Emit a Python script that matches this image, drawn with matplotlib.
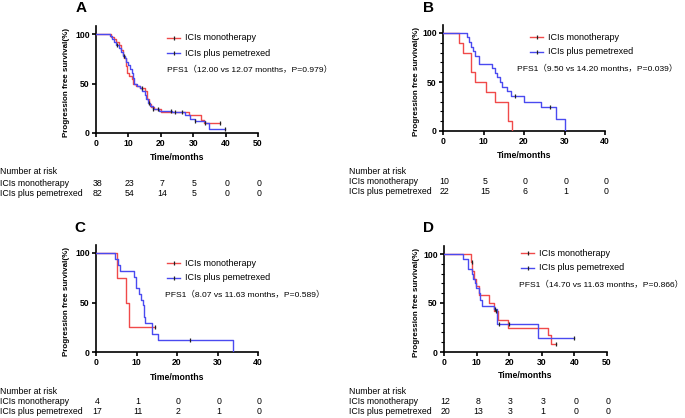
import numpy as np
import matplotlib
matplotlib.use('Agg')
from matplotlib import pyplot as plt
from matplotlib.lines import Line2D
from matplotlib.transforms import blended_transform_factory

plt.rcParams['font.family'] = ['Liberation Sans', 'Noto Sans CJK SC', 'DejaVu Sans']

RED = '#f04a4a'
BLUE = '#4a4af0'

labels = ['ICIs monotherapy', 'ICIs plus pemetrexed']

# ---- panel A ----
a_mono_t = [0, 4.5, 5.5, 6.3, 7.0, 7.6, 8.2, 8.7, 9.2, 9.7, 10.3, 11.0, 11.5, 12.3, 13.5, 15.0, 15.8, 16.3, 17.0, 18.0, 20.0, 28.8, 32.3, 33.3, 38.4]
a_mono_s = [100, 97, 95, 92, 89, 84, 79, 76, 68, 61, 58, 55, 50, 47, 45, 42, 34, 29, 26, 24, 21, 18, 13, 10, 10]
a_mono_c = [19.0, 24.5, 33.6, 38.4]
a_comb_t = [0, 4.3, 5.0, 5.6, 6.2, 7.0, 7.6, 8.2, 8.8, 9.3, 9.8, 10.4, 11.0, 11.4, 11.8, 12.5, 13.5, 14.3, 15.0, 15.5, 16.0, 16.8, 17.5, 19.5, 23.5, 27.5, 29.0, 30.5, 33.5, 35.0, 39.9]
a_comb_s = [100, 98, 95, 92, 89, 86, 82, 78, 76, 72, 69, 65, 61, 56, 50, 47, 45, 42, 38, 34, 30, 27, 24, 22, 21, 18, 14, 12, 10, 4, 4]
a_comb_c = [6.4, 8.5, 14.1, 16.4, 17.5, 23.2, 26.5, 30.6, 39.9]
a_pfs = 'PFS1（12.00 vs 12.07 months，P=0.979）'
a_risk = [[38, 23, 7, 5, 0, 0], [82, 54, 14, 5, 0, 0]]

# ---- panel B ----
b_mono_t = [0, 4.0, 5.0, 7.0, 8.0, 10.7, 12.8, 16.1, 17.0]
b_mono_s = [100, 90, 80, 60, 50, 40, 30, 10, 0]
b_mono_c = []
b_comb_t = [0, 6.0, 6.4, 6.8, 7.5, 8.0, 8.9, 12.0, 12.8, 13.3, 14.0, 14.5, 15.7, 16.7, 20.0, 24.1, 28.0, 30.1]
b_comb_s = [100, 95.5, 91, 86, 82, 77, 68, 64, 59, 55, 50, 45, 41, 36, 30, 24, 12, 0]
b_comb_c = [17.7, 26.3]
b_pfs = 'PFS1（9.50 vs 14.20 months，P=0.039）'
b_risk = [[10, 5, 0, 0, 0], [22, 15, 6, 1, 0]]

# ---- panel C ----
c_mono_t = [0, 5.3, 7.4, 8.2, 14.6]
c_mono_s = [100, 75, 50, 25, 25]
c_mono_c = [14.6]
c_comb_t = [0, 4.7, 5.5, 5.9, 9.5, 9.8, 10.5, 11.0, 11.5, 11.8, 12.1, 13.9, 15.2, 33.9]
c_comb_s = [100, 94, 88, 82, 76, 65, 59, 53, 47, 35, 29, 18, 12, 0]
c_comb_c = [23.2]
c_pfs = 'PFS1（8.07 vs 11.63 months，P=0.589）'
c_risk = [[4, 1, 0, 0, 0], [17, 11, 2, 1, 0]]

# ---- panel D ----
d_mono_t = [0, 8.3, 8.7, 9.3, 9.8, 10.7, 13.8, 15.3, 16.7, 19.7, 32.0, 32.7, 34.4]
d_mono_s = [100, 92, 83, 75, 67, 58, 50, 42, 33, 25, 17, 8, 8]
d_mono_c = [8.6, 16.0, 34.4]
d_comb_t = [0, 5.7, 7.5, 8.6, 9.0, 9.4, 9.8, 10.6, 11.0, 11.8, 15.3, 16.3, 28.7, 39.8]
d_comb_s = [100, 95, 85, 80, 75, 70, 65, 60, 53, 47, 44, 29, 14, 14]
d_comb_c = [15.6, 16.9, 19.9, 39.8]
d_pfs = 'PFS1（14.70 vs 11.63 months，P=0.866）'
d_risk = [[12, 8, 3, 3, 0, 0], [20, 13, 3, 1, 0, 0]]

W, H = 685, 418
fig = plt.figure(figsize=(W / 100, H / 100), dpi=100)


def fx(px):
    return px / W


def fy(py):
    return 1 - py / H


def make_axes(left, right, y0, y100, ymax=108):
    ppu = (y0 - y100) / 100.0
    top = y0 - ymax * ppu
    ax = fig.add_axes([fx(left), fy(y0), (right - left) / W, (y0 - top) / H])
    ax.set_ylim(0, ymax)
    return ax


def surv_at(t, s, x):
    i = np.searchsorted(t, x, side='right') - 1
    return np.array(s)[i]


def panel(ax, letter, lxy, xmax, curves, pfs, pfs_xy, leg_xy, risk, risk_y, risk_x, ylab_x, xlab_y, minor):
    for t, s, c, col in curves:
        ax.step(t, s, where='post', color=col, lw=1.0, zorder=3)
        if len(c):
            ax.plot(c, surv_at(t, s, c), ls='none', marker='|', ms=3.5, mew=0.9,
                    color='#222222', zorder=4)
    ax.set_xlim(0, xmax)
    ax.set_xticks(np.arange(0, xmax + 1, 10))
    ax.set_yticks([0, 50, 100])
    if minor:
        ax.set_yticks(np.arange(0, 101, 10), minor=True)
        ax.tick_params(axis='y', which='minor', length=2, width=0.8)
    for sp in ['top', 'right']:
        ax.spines[sp].set_visible(False)
    for sp in ['left', 'bottom']:
        ax.spines[sp].set_linewidth(1.2)
    ax.tick_params(axis='both', which='major', length=3, width=1.2, labelsize=6.2, pad=1.5)
    for lab in ax.get_xticklabels() + ax.get_yticklabels():
        lab.set_fontweight('bold')
    ax.patch.set_alpha(0)

    pos = ax.get_position()
    x0px = pos.x0 * W
    y0px = (1 - pos.y0) * H
    wpx = pos.width * W
    hpx = pos.height * H
    ax.set_xlabel('Time/months', fontsize=6.3, fontweight='bold', va='center')
    ax.xaxis.set_label_coords(0.5, (y0px - xlab_y) / hpx)
    ax.set_ylabel('Progression free survival(%)', fontsize=5.8, fontweight='bold', va='center')
    ax.yaxis.set_label_coords((ylab_x - x0px) / wpx, 0.47)

    fig.text(fx(lxy[0]), fy(lxy[1]), letter, fontsize=11, fontweight='bold',
             ha='center', va='center')

    # legend
    for k, (lab, col) in enumerate(zip(labels, [RED, BLUE])):
        yy = fy(leg_xy[1] + 15 * k)
        fig.add_artist(Line2D([fx(leg_xy[0]), fx(leg_xy[0] + 13)], [yy, yy], color=col, lw=1.0))
        fig.add_artist(Line2D([fx(leg_xy[0] + 6.5)], [yy], marker='|', ms=3, mew=0.9,
                              color='#222222', ls='none'))
        fig.text(fx(leg_xy[0] + 18), yy, lab, fontsize=6.5, va='center', ha='left')

    fig.text(fx(pfs_xy[0]), fy(pfs_xy[1]), pfs, fontsize=6.1, va='center', ha='left')

    # number at risk
    tr = blended_transform_factory(ax.transData, fig.transFigure)
    fig.text(fx(risk_x), fy(risk_y[0]), 'Number at risk', fontsize=6.3, va='center', ha='left')
    xs = np.arange(0, xmax + 1, 10)
    for row, lab, yy in zip(risk, labels, risk_y[1:]):
        fig.text(fx(risk_x), fy(yy), lab, fontsize=6.3, va='center', ha='left')
        for xv, n in zip(xs, row):
            fig.text(xv + xmax * 0.008, fy(yy), str(n), fontsize=6.3, va='center', ha='center',
                     transform=tr)


axA = make_axes(96, 258, 133, 34)
panel(axA, 'A', (81, 8), 50,
      [(a_mono_t, a_mono_s, a_mono_c, RED), (a_comb_t, a_comb_s, a_comb_c, BLUE)],
      a_pfs, (167, 70), (167, 38), a_risk, (172, 183, 193), 0, 67, 157, False)

axB = make_axes(443, 605, 131, 33)
panel(axB, 'B', (428, 8), 40,
      [(b_mono_t, b_mono_s, b_mono_c, RED), (b_comb_t, b_comb_s, b_comb_c, BLUE)],
      b_pfs, (517, 69), (530, 37), b_risk, (171, 181, 191), 349, 416, 156, True)

axC = make_axes(96, 258, 352, 253)
panel(axC, 'C', (80, 228), 40,
      [(c_mono_t, c_mono_s, c_mono_c, RED), (c_comb_t, c_comb_s, c_comb_c, BLUE)],
      c_pfs, (165, 295), (167, 263), c_risk, (391, 402, 412), 0, 67, 377, False)

axD = make_axes(444, 607, 352, 254)
panel(axD, 'D', (428, 228), 50,
      [(d_mono_t, d_mono_s, d_mono_c, RED), (d_comb_t, d_comb_s, d_comb_c, BLUE)],
      d_pfs, (519, 285), (521, 253), d_risk, (391, 401, 411), 349, 416, 376, True)

fig.savefig('out.png', dpi=100)
